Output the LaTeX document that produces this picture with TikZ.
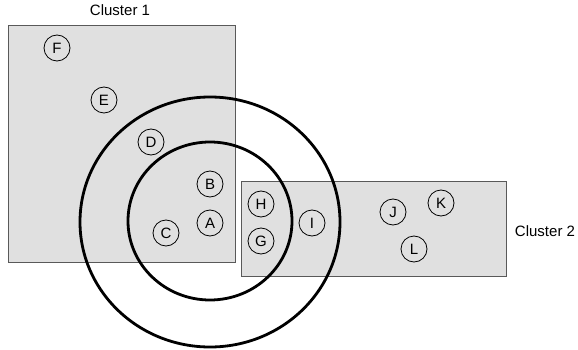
\documentclass[tikz,border=0pt]{standalone}
\usepackage{fontspec}
\setmainfont{Liberation Sans}
\begin{document}
\begin{tikzpicture}[x=1pt,y=-1pt,
  cluster/.style={draw=black!65,fill=black!12,line width=0.9pt},
  ring/.style={draw=black,line width=2.8pt},
  pt/.style={circle,draw=black,line width=0.8pt,minimum size=26pt,inner sep=0pt,font=\fontsize{15}{15}\selectfont},
  lbl/.style={font=\fontsize{15}{15}\selectfont}]
\useasboundingbox (0,0) rectangle (578,350);
\fill[white] (0,0) rectangle (578,350);
\draw[cluster] (8,25) rectangle (235,262);
\draw[cluster] (241,181) rectangle (506,276);
\node[lbl] (c1) at (120,10) {Cluster 1};
\node[lbl] (c2) at (545,231) {Cluster 2};
\draw[ring] (210,222) ellipse [x radius=130, y radius=125];
\draw[ring] (210,221) ellipse [x radius=82, y radius=79];
\node[pt] (F) at (57,48) {F};
\node[pt] (E) at (104,100) {E};
\node[pt] (D) at (151,142) {D};
\node[pt] (B) at (210,184) {B};
\node[pt] (A) at (210,223) {A};
\node[pt] (C) at (166,233) {C};
\node[pt] (H) at (261,204) {H};
\node[pt] (G) at (261,241) {G};
\node[pt] (I) at (312,223) {I};
\node[pt] (J) at (393,212) {J};
\node[pt] (K) at (441,203) {K};
\node[pt] (L) at (414,249) {L};
\end{tikzpicture}
\end{document}
